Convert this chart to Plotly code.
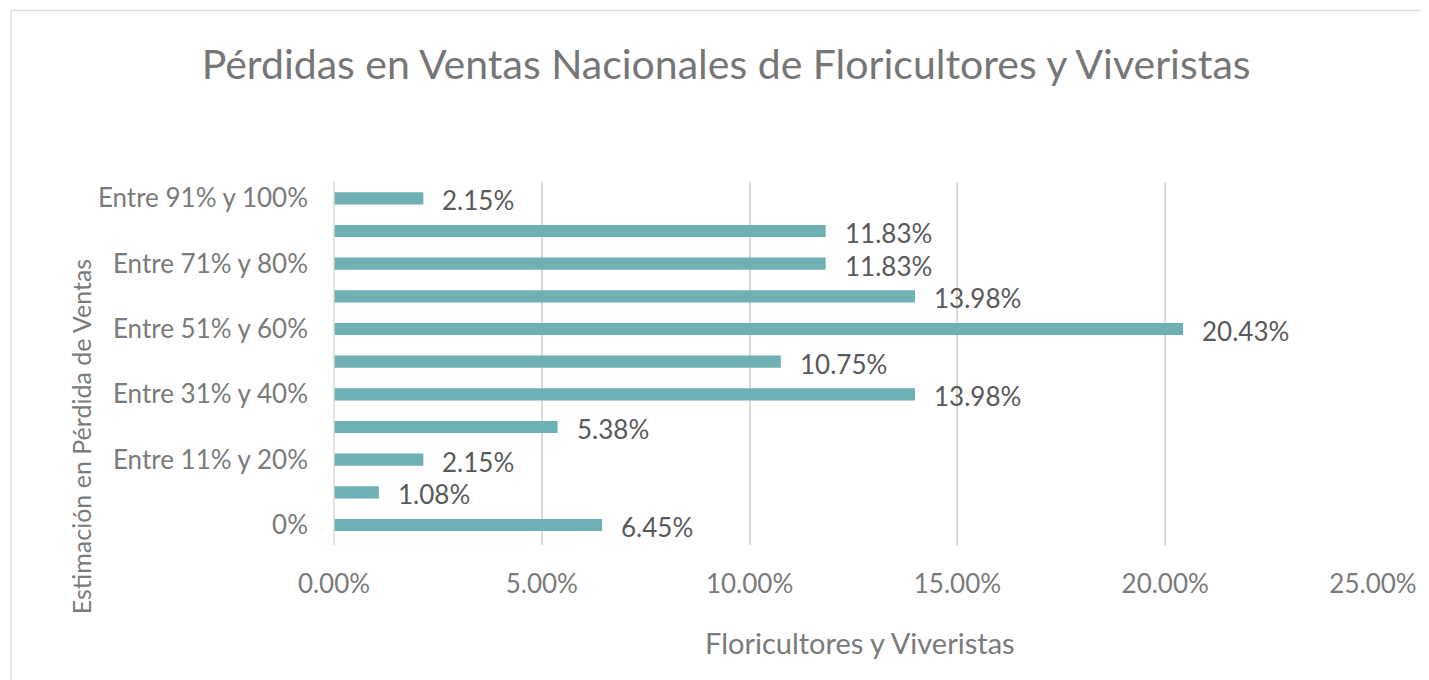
import plotly.graph_objects as go

# data
categorias = ["0%", "Entre 1% y 10%", "Entre 11% y 20%", "Entre 21% y 30%",
              "Entre 31% y 40%", "Entre 41% y 50%", "Entre 51% y 60%",
              "Entre 61% y 70%", "Entre 71% y 80%", "Entre 81% y 90%",
              "Entre 91% y 100%"]
porcentajes = [0.0645, 0.0108, 0.0215, 0.0538, 0.1398, 0.1075, 0.2043,
               0.1398, 0.1183, 0.1183, 0.0215]
etiquetas = ["6.45%", "1.08%", "2.15%", "5.38%", "13.98%", "10.75%", "20.43%",
             "13.98%", "11.83%", "11.83%", "2.15%"]
ticks_x = [0, 0.05, 0.10, 0.15, 0.20, 0.25]
ticks_x_txt = ["0.00%", "5.00%", "10.00%", "15.00%", "20.00%", "25.00%"]
ticks_y = categorias[::2]

# the page body has an 8px margin, so work in page pixels and shift
OFF = 8
W, H = 1429 - OFF, 680 - OFF
ML, MR, MT, MB = 334 - OFF, 59 - OFF, 182 - OFF, 135
PW, PH = W - ML - MR, H - MT - MB

def px_x(p):
    return (p - OFF - ML) / PW

def px_y(p):
    return 1 - (p - OFF - MT) / PH

FONT = "Lato"
GRIS = "#7a7a7a"

fig = go.Figure()
fig.add_trace(go.Bar(
    x=porcentajes, y=categorias, orientation="h",
    width=0.37, marker=dict(color="#6eb0b3", line=dict(width=0)),
    showlegend=False, hoverinfo="skip",
))

fig.update_layout(
    width=W, height=H,
    margin=dict(l=ML, r=MR, t=MT, b=MB),
    paper_bgcolor="white", plot_bgcolor="white",
    title=dict(text="Pérdidas en Ventas Nacionales de Floricultores y Viveristas",
               x=px_x(728), xref="paper", xanchor="center",
               y=1 - (65 - OFF) / H, yanchor="middle",
               font=dict(family=FONT, size=41, color="#767676")),
    xaxis=dict(range=[0, 0.25], tickvals=ticks_x, ticktext=ticks_x_txt,
               showgrid=True, gridcolor="#d9d9d9", gridwidth=1.5,
               zeroline=False, showline=False, ticks="",
               ticklabelstandoff=21, fixedrange=True,
               tickfont=dict(family=FONT, size=26, color=GRIS)),
    yaxis=dict(type="category", categoryorder="array", categoryarray=categorias,
               tickvals=ticks_y, ticktext=ticks_y,
               showgrid=False, zeroline=False, showline=False, ticks="",
               ticklabelstandoff=25, fixedrange=True,
               tickfont=dict(family=FONT, size=26, color=GRIS)),
    shapes=[dict(type="line", xref="paper", yref="paper",
                 x0=px_x(334), x1=px_x(334), y0=px_y(182), y1=px_y(545),
                 line=dict(color="#d9d9d9", width=1.5)),
            dict(type="rect", xref="paper", yref="paper",
                 x0=px_x(9.5), x1=px_x(1460), y0=px_y(720), y1=px_y(10.5),
                 line=dict(color="#dcdcdc", width=1.5), layer="below")],
    annotations=[
        dict(text="Floricultores y Viveristas", showarrow=False,
             xref="paper", yref="paper", x=px_x(863), y=px_y(642),
             xanchor="center", yanchor="middle",
             font=dict(family=FONT, size=29, color=GRIS)),
        dict(text="Estimación en Pérdida de Ventas", showarrow=False,
             textangle=-90, xref="paper", yref="paper",
             x=px_x(80), y=px_y(437), xanchor="center", yanchor="middle",
             font=dict(family=FONT, size=25, color=GRIS)),
    ],
)

# data labels next to each bar
for v, c, t in zip(porcentajes, categorias, etiquetas):
    fig.add_annotation(x=v, y=c, text=t, showarrow=False, xanchor="left",
                       xshift=17, yshift=-2,
                       font=dict(family=FONT, size=26, color="#595959"))

fig.write_html("out.html")
